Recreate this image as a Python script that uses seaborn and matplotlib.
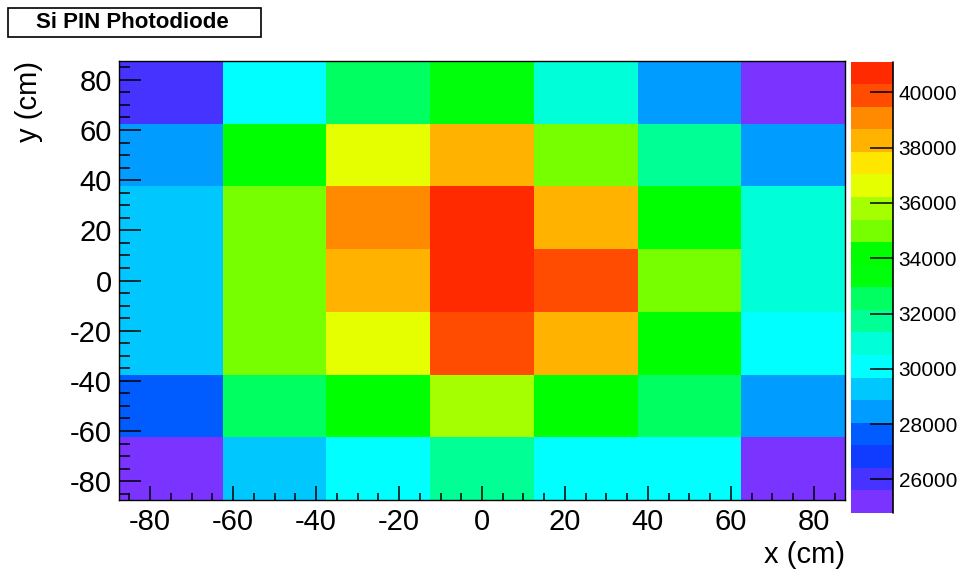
import numpy as np
import pandas as pd
import matplotlib
matplotlib.use("Agg")
import matplotlib.pyplot as plt
from matplotlib.colors import ListedColormap, BoundaryNorm
from matplotlib.patches import Rectangle
import seaborn as sns

# Bin centres of the 7x7 scan (cm); rows listed from top (y = +75) to bottom
x_centers = [-75, -50, -25, 0, 25, 50, 75]
y_centers = [75, 50, 25, 0, -25, -50, -75]
bin_width = 25

# Photodiode response in each bin
row_p75 = [25980, 30180, 32540, 33620, 30870, 28460, 25210]
row_p50 = [28390, 34170, 36640, 38240, 35020, 31720, 28610]
row_p25 = [29310, 35090, 39110, 41120, 38310, 34230, 30920]
row_0 = [29180, 34960, 38190, 40870, 39870, 34890, 30810]
row_m25 = [29420, 35140, 36530, 39920, 38250, 34120, 30080]
row_m50 = [27650, 32480, 34210, 35830, 34290, 32610, 28330]
row_m75 = [24780, 29240, 30060, 31780, 30140, 30230, 25170]

axis_ticks = [-80, -60, -40, -20, 0, 20, 40, 60, 80]
cbar_ticks = [26000, 28000, 30000, 32000, 34000, 36000, 38000, 40000]

# 20-level rainbow palette (violet -> red)
palette = ["#7b33ff", "#4633ff", "#0f3cff", "#005cff", "#009cff",
           "#00c8ff", "#00ffff", "#00ffd8", "#00ff95", "#00ff60",
           "#00ff0a", "#00ff00", "#77ff00", "#a6ff00", "#e6ff00",
           "#ffe600", "#ffb300", "#ff8a00", "#ff4c00", "#ff2a00"]

sns.set_style("white")
plt.rcParams["font.family"] = ["Liberation Sans", "DejaVu Sans"]
plt.rcParams["axes.axisbelow"] = False
plt.rcParams["text.color"] = "black"
plt.rcParams["axes.labelcolor"] = "black"

df = pd.DataFrame([row_p75, row_p50, row_p25, row_0, row_m25, row_m50, row_m75],
                  index=y_centers, columns=x_centers)

zmin, zmax = df.values.min(), df.values.max()
levels = np.linspace(zmin, zmax, len(palette) + 1)
cmap = ListedColormap(palette)
norm = BoundaryNorm(levels, cmap.N, clip=True)

W, H = 957, 570
fig = plt.figure(figsize=(W / 100, H / 100), dpi=100)
ax = fig.add_axes([119 / W, 1 - 500 / H, (845 - 119) / W, (500 - 61) / H])
cax = fig.add_axes([851 / W, 1 - 513 / H, 42 / W, (513 - 61.5) / H])

sns.heatmap(df, ax=ax, cmap=cmap, norm=norm, cbar=True, cbar_ax=cax,
            cbar_kws={"spacing": "proportional"},
            xticklabels=False, yticklabels=False)
ax.set_axisbelow(False)
cax.set_axisbelow(False)

# Data coordinates -> heatmap cell coordinates
x_lo = x_centers[0] - bin_width / 2
y_hi = y_centers[0] + bin_width / 2
def to_col(v):
    return (v - x_lo) / bin_width
def to_row(v):
    return (y_hi - v) / bin_width

minor = np.arange(-85, 86, 5)
ax.set_xticks([to_col(t) for t in axis_ticks])
ax.set_xticklabels([str(t) for t in axis_ticks])
ax.set_xticks([to_col(t) for t in minor], minor=True)
ax.set_yticks([to_row(t) for t in axis_ticks])
ax.set_yticklabels([str(t) for t in axis_ticks], rotation=0)
ax.set_yticks([to_row(t) for t in minor], minor=True)

ax.tick_params(axis="x", which="major", direction="in", length=10, width=1.1,
               labelsize=21, pad=6, colors="black", bottom=True, top=False)
ax.tick_params(axis="x", which="minor", direction="in", length=5, width=1.1,
               bottom=True, top=False, colors="black")
ax.tick_params(axis="y", which="major", direction="in", length=16, width=1.1,
               labelsize=21, pad=5, colors="black", left=True, right=False)
ax.tick_params(axis="y", which="minor", direction="in", length=8, width=1.1,
               left=True, right=False, colors="black")

for s in ax.spines.values():
    s.set_visible(True)
    s.set_color("black")
    s.set_linewidth(1.0)
    s.set_zorder(3)

ax.set_xlabel("x (cm)", fontsize=21, ha="right", va="center", color="black")
ax.xaxis.set_label_coords(1.0, (500 - 555) / (500 - 61))
ax.set_ylabel("y (cm)", fontsize=21, ha="right", va="center", color="black")
ax.yaxis.set_label_coords((29 - 119) / (845 - 119), 1.0)

# Colour scale
cbar = ax.collections[0].colorbar
cbar.outline.set_visible(False)
cbar.set_ticks(cbar_ticks)
cbar.set_ticklabels([str(t) for t in cbar_ticks])
cax.tick_params(axis="y", which="major", direction="in", length=16.5, width=1.1,
                labelsize=15, pad=4, colors="black", right=True, left=False)
cax.tick_params(axis="y", which="minor", length=0)
cax.plot([1, 1], [0, 1], transform=cax.transAxes, color="black",
         lw=1.2, clip_on=False, zorder=5)

# Title box
fig.patches.append(Rectangle((8 / W, 1 - 37 / H), 253 / W, 29 / H,
                             transform=fig.transFigure, facecolor="white",
                             edgecolor="black", linewidth=1.2))
fig.text(132.5 / W, 1 - 22.5 / H, "Si PIN Photodiode", ha="center", va="center",
         fontsize=16, fontweight="bold", color="black")

fig.savefig("out.png", dpi=100)
